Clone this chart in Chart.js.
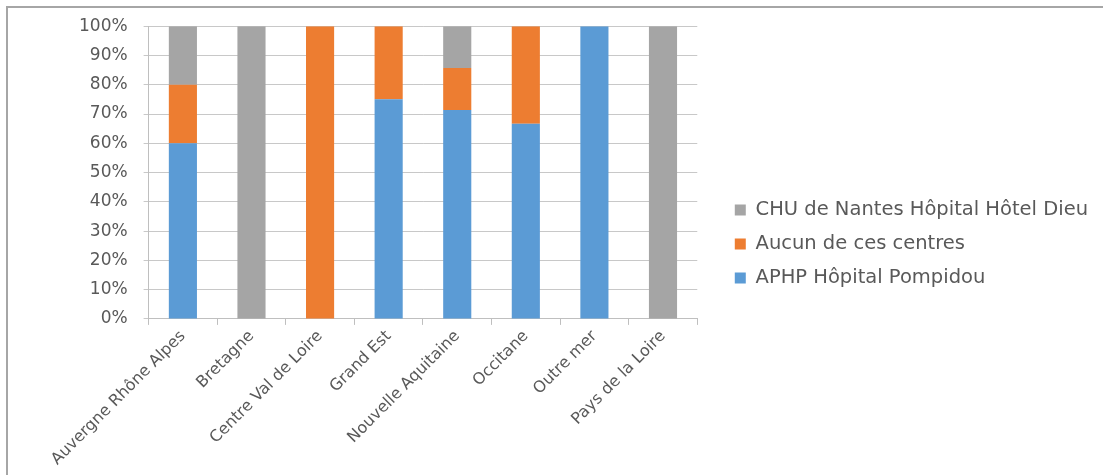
<!DOCTYPE html>
<html>
<head>
<meta charset="utf-8">
<script src="https://cdn.jsdelivr.net/npm/chart.js@4/dist/chart.umd.min.js"></script>
<style>
    html, body { margin: 0; padding: 0; background: #fff; }
    #wrap { position: relative; width: 1103px; height: 475px; overflow: hidden; }
    #frame { position: absolute; left: 6px; top: 6px; width: 1200px; height: 600px;
             border-top: 2px solid #a6a6a6; border-left: 2px solid #a6a6a6; }
    #chart { position: absolute; left: 0; top: 0; }
</style>
</head>
<body>
<div id="wrap">
    <div id="frame"></div>
    <canvas id="chart" width="1103" height="475"></canvas>
</div>
<script>
// Regions (x axis categories)
const regions = [
    'Auvergne Rhône Alpes', 'Bretagne', 'Centre Val de Loire', 'Grand Est',
    'Nouvelle Aquitaine', 'Occitane', 'Outre mer', 'Pays de la Loire'
];

// Share of each centre per region, in percent
const aphpPompidou = [60, 0, 0, 75, 71.4, 66.7, 100, 0];
const aucunCentre = [20, 0, 100, 25, 14.3, 33.3, 0, 0];
const chuNantes = [20, 100, 0, 0, 14.3, 0, 0, 100];

const fontFamily = '"DejaVu Sans", sans-serif';
const textColor = '#595959';

// Push the legend a bit away from the plot, like in the original sheet
const legendShift = {
    id: 'legendShift',
    afterLayout(chart) {
        chart.legend.left += 23;
        chart.legend.right += 23;
        chart.legend.top -= 4;
        chart.legend.bottom -= 4;
    }
};

new Chart(document.getElementById('chart'), {
    type: 'bar',
    data: {
        labels: regions,
        datasets: [
            {label: 'APHP Hôpital Pompidou', data: aphpPompidou, backgroundColor: '#5b9bd5'},
            {label: 'Aucun de ces centres', data: aucunCentre, backgroundColor: '#ed7d31'},
            {label: 'CHU de Nantes Hôpital Hôtel Dieu', data: chuNantes, backgroundColor: '#a5a5a5'}
        ]
    },
    options: {
        responsive: false,
        animation: false,
        categoryPercentage: 1,
        barPercentage: 0.41,
        layout: {padding: {left: 63, top: 25, right: 28, bottom: 4}},
        plugins: {
            tooltip: {enabled: false},
            legend: {
                position: 'right',
                reverse: true,
                maxWidth: 460,
                labels: {
                    boxWidth: 11,
                    boxHeight: 11,
                    padding: 14.5,
                    color: textColor,
                    font: {family: fontFamily, size: 19.5}
                }
            }
        },
        scales: {
            x: {
                stacked: true,
                grid: {offset: true, drawOnChartArea: false, tickLength: 6, color: '#bfbfbf'},
                border: {color: '#bfbfbf'},
                ticks: {
                    autoSkip: false,
                    minRotation: 45,
                    maxRotation: 45,
                    padding: 2,
                    color: textColor,
                    font: {family: fontFamily, size: 16}
                }
            },
            y: {
                stacked: true,
                min: 0,
                max: 100,
                grid: {color: '#c8c8c8', tickLength: 5},
                border: {color: '#bfbfbf'},
                ticks: {
                    stepSize: 10,
                    padding: 16,
                    color: textColor,
                    font: {family: fontFamily, size: 17},
                    callback: v => v + '%'
                }
            }
        }
    },
    plugins: [legendShift]
});
</script>
</body>
</html>
